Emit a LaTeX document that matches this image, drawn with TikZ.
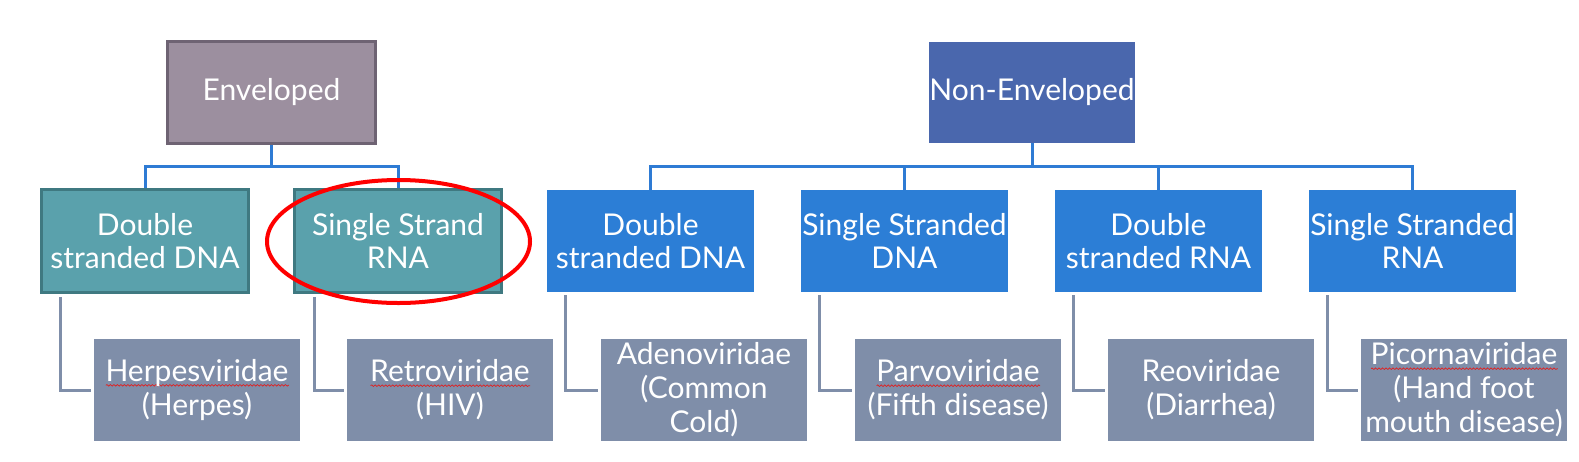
\documentclass[tikz,border=0pt]{standalone}
\usepackage{fontspec}
\setmainfont{Lato}
\usetikzlibrary{shapes,decorations.pathmorphing}
\definecolor{envfill}{HTML}{9C8F9F}
\definecolor{envline}{HTML}{6E6373}
\definecolor{tealfill}{HTML}{5AA1AC}
\definecolor{tealline}{HTML}{3F7981}
\definecolor{nonfill}{HTML}{4A67AD}
\definecolor{bluefill}{HTML}{2C7ED6}
\definecolor{leaffill}{HTML}{7F8EA9}
\definecolor{linkblue}{HTML}{2E7BD4}
\definecolor{spellred}{HTML}{E02020}
\newsavebox{\spellbox}
\newlength{\spellwd}
\newcommand{\spellmark}[1]{\sbox{\spellbox}{#1}\setlength{\spellwd}{\wd\spellbox}%
  \rlap{\smash{\lower5pt\hbox{\tikz\draw[spellred,line width=0.7pt,decorate,decoration={snake,amplitude=0.8pt,segment length=3.5pt}] (0pt,0pt) -- (\spellwd,0pt);}}}\usebox{\spellbox}}

\begin{document}
\begin{tikzpicture}[x=1pt,y=-1pt]
\tikzstyle{every node}=[rectangle,inner sep=0pt,align=center,text=white,font=\fontsize{30}{33}\selectfont]
\tikzstyle{envtop}=[fill=envfill,draw=envline,line width=3pt,minimum width=208pt,minimum height=102pt]
\tikzstyle{nontop}=[fill=nonfill,minimum width=206pt,minimum height=101pt]
\tikzstyle{envkind}=[fill=tealfill,draw=tealline,line width=2.5pt,minimum width=207pt,minimum height=103pt]
\tikzstyle{nonkind}=[fill=bluefill,minimum width=207pt,minimum height=102pt]
\tikzstyle{family}=[fill=leaffill,minimum width=206pt,minimum height=102pt,font=\fontsize{30}{34}\selectfont]
\tikzstyle{uplink}=[draw=linkblue,line width=3pt]
\tikzstyle{downlink}=[draw=leaffill,line width=3pt,shorten >=3pt,shorten <=3pt]
\useasboundingbox (0,0) rectangle (1579,461);
% top level
\node[envtop] (env) at (271.5,92.5) {Enveloped};
\node[nontop] (non) at (1032,92.5) {Non-Enveloped};
% genome kinds
\node[envkind] (e1) at (145,241) {Double\\stranded DNA};
\node[envkind] (e2) at (398,241) {Single Strand\\RNA};
\node[nonkind] (n1) at (650.5,241) {Double\\stranded DNA};
\node[nonkind] (n2) at (904.5,241) {Single Stranded\\DNA};
\node[nonkind] (n3) at (1158.5,241) {Double\\stranded RNA};
\node[nonkind] (n4) at (1412.5,241) {Single Stranded\\RNA};
% families
\node[family] (f1) at (197,390) {\spellmark{Herpesviridae}\\(Herpes)};
\node[family] (f2) at (450,390) {\spellmark{Retroviridae}\\(HIV)};
\node[family] (f3) at (704,390) {Adenoviridae\\(Common\\Cold)};
\node[family] (f4) at (958,390) {\spellmark{Parvoviridae}\\(Fifth disease)};
\node[family] (f5) at (1211,390) {Reoviridae\\(Diarrhea)};
\node[family] (f6) at (1464,390) {\spellmark{Picornaviridae}\\(Hand foot\\mouth disease)};
% links
\draw[uplink] (env.south) -- ++(0,21) -| (e1.north);
\draw[uplink] (env.south) -- ++(0,21) -| (e2.north);
\draw[uplink] (non.south) -- ++(0,23) -| (n1.north);
\draw[uplink] (non.south) -- ++(0,23) -| (n2.north);
\draw[uplink] (non.south) -- ++(0,23) -| (n3.north);
\draw[uplink] (non.south) -- ++(0,23) -| (n4.north);
\draw[downlink] ([xshift=20pt]e1.south west) |- (f1.west);
\draw[downlink] ([xshift=21pt]e2.south west) |- (f2.west);
\draw[downlink] ([xshift=19pt]n1.south west) |- (f3.west);
\draw[downlink] ([xshift=19pt]n2.south west) |- (f4.west);
\draw[downlink] ([xshift=19pt]n3.south west) |- (f5.west);
\draw[downlink] ([xshift=19pt]n4.south west) |- (f6.west);
% highlight
\node[ellipse,draw=red,line width=4pt,minimum width=263pt,minimum height=123pt] (mark) at (398.5,241.5) {};
\end{tikzpicture}
\end{document}
